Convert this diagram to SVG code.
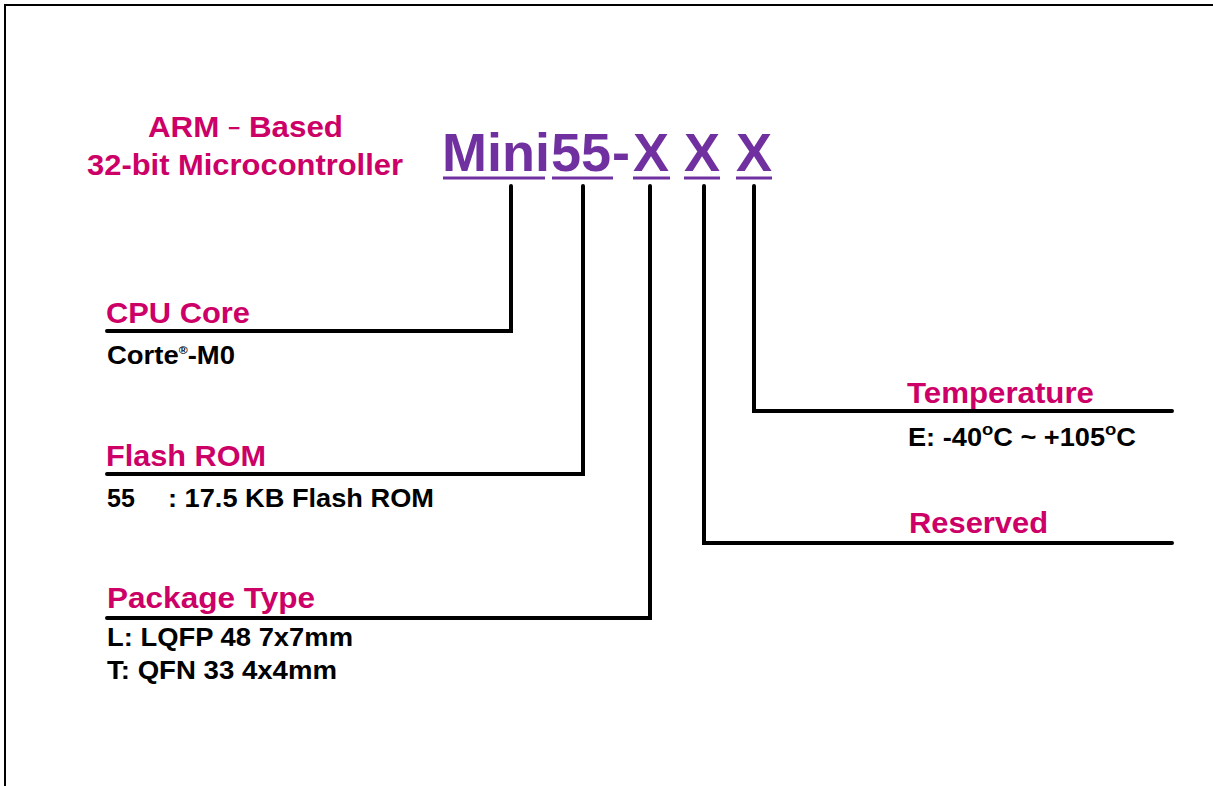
<svg xmlns="http://www.w3.org/2000/svg" width="1213" height="786" viewBox="0 0 1213 786">
<style>
.m{fill:#CC0066;font-family:"Liberation Sans",Arial,sans-serif;font-weight:bold;font-size:30px}
.b{fill:#000;font-family:"Liberation Sans",Arial,sans-serif;font-weight:bold;font-size:25px}
.p{fill:#7030A0;font-family:"Liberation Sans",Arial,sans-serif;font-weight:bold;font-size:54px}
.ul{stroke:#7030A0;stroke-width:3}
.c{fill:none;stroke:#000;stroke-width:4;stroke-linecap:round;stroke-linejoin:miter}
</style>
<rect width="1213" height="786" fill="#fff"/>
<path d="M5,786 V5 H1213" fill="none" stroke="#000" stroke-width="2"/>
<g id="title">
<text class="m" x="148" y="137" textLength="195" lengthAdjust="spacingAndGlyphs">ARM <tspan font-size="20" dy="-2">−</tspan><tspan dy="2"> Based</tspan></text>
<text class="m" x="87" y="175" textLength="316" lengthAdjust="spacingAndGlyphs">32-bit Microcontroller</text>
</g>
<g id="partnumber">
<text class="p" x="442" y="171">Mini</text>
<text class="p" x="551" y="171">55</text>
<text class="p" x="612" y="171">-</text>
<text class="p" x="633" y="171">X</text>
<text class="p" x="684" y="171">X</text>
<text class="p" x="736" y="171">X</text>
<line class="ul" x1="443" y1="178" x2="545" y2="178"/>
<line class="ul" x1="552" y1="178" x2="613" y2="178"/>
<line class="ul" x1="633" y1="178" x2="670" y2="178"/>
<line class="ul" x1="684" y1="178" x2="720" y2="178"/>
<line class="ul" x1="736" y1="178" x2="772" y2="178"/>
</g>
<g id="connectors">
<path class="c" d="M511,186 V331 H107"/>
<path class="c" d="M583,186 V474 H107"/>
<path class="c" d="M650,186 V618 H107"/>
<path class="c" d="M704,186 V543 H1172"/>
<path class="c" d="M754,186 V411 H1172"/>
</g>
<g id="cpu-core">
<text class="m" x="106" y="323" textLength="144" lengthAdjust="spacingAndGlyphs">CPU Core</text>
<text class="b" x="107" y="364" textLength="128" lengthAdjust="spacingAndGlyphs">Corte<tspan font-size="11" dy="-10">®</tspan><tspan dy="10">-M0</tspan></text>
</g>
<g id="flash-rom">
<text class="m" x="106" y="466" textLength="160" lengthAdjust="spacingAndGlyphs">Flash ROM</text>
<text class="b" x="107" y="507">55</text>
<text class="b" x="168" y="507" textLength="266" lengthAdjust="spacingAndGlyphs">: 17.5 KB Flash ROM</text>
</g>
<g id="package-type">
<text class="m" x="107" y="608" textLength="208" lengthAdjust="spacingAndGlyphs">Package Type</text>
<text class="b" x="107" y="646" textLength="246" lengthAdjust="spacingAndGlyphs">L: LQFP 48 7x7mm</text>
<text class="b" x="107" y="679" textLength="230" lengthAdjust="spacingAndGlyphs">T: QFN 33 4x4mm</text>
</g>
<g id="temperature">
<text class="m" x="907" y="403" textLength="187" lengthAdjust="spacingAndGlyphs">Temperature</text>
<text class="b" x="908" y="446" textLength="228" lengthAdjust="spacingAndGlyphs">E: -40<tspan font-size="17" dy="-11">o</tspan><tspan dy="11">C ~ +105</tspan><tspan font-size="17" dy="-11">o</tspan><tspan dy="11">C</tspan></text>
</g>
<g id="reserved">
<text class="m" x="909" y="533" textLength="139" lengthAdjust="spacingAndGlyphs">Reserved</text>
</g>
</svg>
